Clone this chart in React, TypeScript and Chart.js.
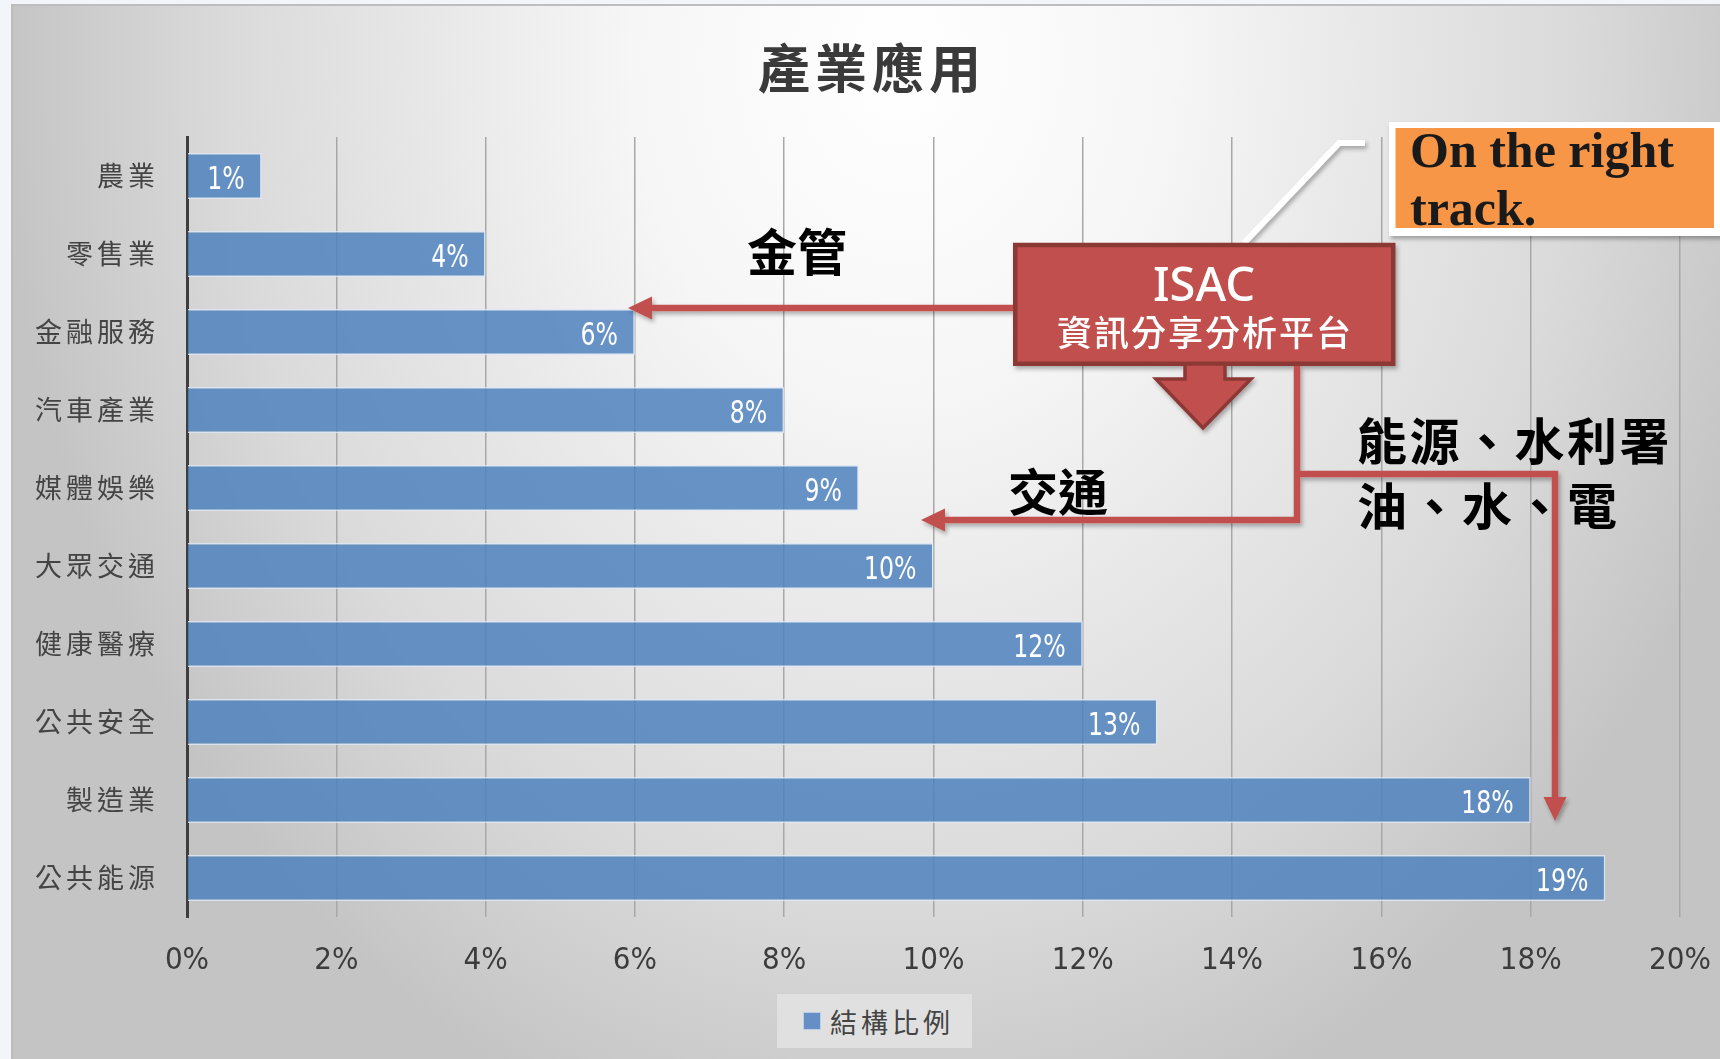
import React, { useEffect, useRef } from 'react';
import { Chart, registerables } from 'chart.js';

Chart.register(...registerables);

// ---- data ----
const chartTitle = '產業應用';
const seriesName = '結構比例';
const categories = ['農業', '零售業', '金融服務', '汽車產業', '媒體娛樂', '大眾交通', '健康醫療', '公共安全', '製造業', '公共能源'];
const shares = [1, 4, 6, 8, 9, 10, 12, 13, 18, 19];
const axisMin = 0;
const axisMax = 20;
const axisStep = 2;

const NARROW = "'Liberation Sans Narrow', 'DejaVu Sans Condensed', 'Roboto', sans-serif";
const CJK = "'Noto Sans CJK TC', 'Noto Sans CJK SC', sans-serif";

const W = 1720;
const H = 1059;

const bgPlugin = {
  id: 'slideBackground',
  beforeDraw(chart: any) {
    const { ctx, width, height } = chart;
    ctx.save();
    ctx.fillStyle = '#f2f5fa';
    ctx.fillRect(0, 0, width, height);
    ctx.save();
    ctx.beginPath();
    ctx.rect(12, 5, width - 12, height - 5);
    ctx.clip();
    ctx.translate(900, 60);
    ctx.scale(1, 1.25);
    const g = ctx.createRadialGradient(0, 0, 0, 0, 0, 900);
    g.addColorStop(0, '#ffffff');
    g.addColorStop(0.3, '#f6f6f6');
    g.addColorStop(0.55, '#e6e6e6');
    g.addColorStop(0.75, '#dadada');
    g.addColorStop(1, '#c4c4c4');
    ctx.fillStyle = g;
    ctx.fillRect(-1000, -100, 2000, 1000);
    ctx.restore();
    ctx.strokeStyle = '#bdbdbd';
    ctx.lineWidth = 2;
    ctx.strokeRect(12, 5, width, height);
    ctx.restore();
  },
};

const barLabelPlugin = {
  id: 'barLabels',
  afterDatasetsDraw(chart: any) {
    const ctx = chart.ctx;
    const meta = chart.getDatasetMeta(0);
    const data = chart.data.datasets[0].data;
    meta.data.forEach((el: any, i: number) => {
      ctx.save();
      ctx.font = `500 32px ${NARROW}`;
      ctx.fillStyle = '#ffffff';
      ctx.textAlign = 'right';
      ctx.textBaseline = 'middle';
      ctx.translate(el.x - 17, el.y + 5);
      ctx.scale(0.82, 1);
      ctx.fillText(`${data[i]}%`, 0, 0);
      ctx.restore();
    });
  },
};

function ChartCanvas() {
  const ref = useRef<HTMLCanvasElement | null>(null);
  useEffect(() => {
    if (!ref.current) return;
    const chart = new Chart(ref.current, {
      type: 'bar',
      data: {
        labels: categories,
        datasets: [
          {
            label: seriesName,
            data: shares,
            backgroundColor: 'rgba(79,129,189,0.85)',
            borderColor: 'rgba(222,232,246,0.85)',
            borderWidth: 1.5,
            categoryPercentage: 1,
            barPercentage: 0.59,
          },
        ],
      },
      options: {
        indexAxis: 'y',
        responsive: false,
        animation: false,
        layout: { padding: { left: 0, right: 40, top: 137, bottom: 0 } },
        plugins: {
          legend: { display: false },
          title: { display: false },
          tooltip: { enabled: false },
        },
        scales: {
          x: {
            min: axisMin,
            max: axisMax,
            ticks: {
              stepSize: axisStep,
              callback: (v: any) => `${v}%`,
              font: { family: NARROW, size: 31, weight: '500' },
              color: '#3c3c3c',
              padding: 25,
            },
            grid: { color: '#a8a8a8', lineWidth: 1.5, drawTicks: false },
            border: { display: false },
            afterFit: (s: any) => {
              s.height = H - 917;
              s.paddingRight = 0;
              s.paddingLeft = 0;
            },
          },
          y: {
            ticks: {
              font: { family: CJK, size: 27 },
              color: '#444444',
              padding: 28,
            },
            grid: { display: false, drawTicks: false },
            border: { display: true, color: '#3e3e3e', width: 3 },
            afterFit: (s: any) => {
              s.width = 187;
              if (!s.__spaced) {
                s.__spaced = true;
                const orig = s.drawLabels.bind(s);
                s.drawLabels = (area: any) => {
                  const c = s.ctx;
                  const prev = c.letterSpacing;
                  c.letterSpacing = '4px';
                  orig(area);
                  c.letterSpacing = prev;
                };
              }
            },
          },
        },
      } as any,
      plugins: [bgPlugin, barLabelPlugin],
    });
    return () => chart.destroy();
  }, []);
  return <canvas ref={ref} width={W} height={H} style={{ display: 'block', width: W, height: H }} />;
}

const abs = (o: React.CSSProperties): React.CSSProperties => ({ position: 'absolute', whiteSpace: 'nowrap', ...o });

export default function App() {
  const red = '#c0504d';
  const dark = '#8c3836';
  return (
    <div style={{ position: 'absolute', left: 0, top: 0, width: W, height: H, overflow: 'hidden' }}>
      <ChartCanvas />
      {/* title */}
      <div
        style={abs({
          left: 872,
          top: 66,
          transform: 'translate(-50%, -50%)',
          font: `700 52px ${CJK}`,
          lineHeight: 1,
          letterSpacing: '5px',
          color: '#3a3a3a',
        })}
      >
        {chartTitle}
      </div>
      {/* legend */}
      <div style={abs({ left: 777, top: 994, width: 195, height: 54, background: '#e0e0e0' })}>
        <div
          style={abs({
            left: 26,
            top: 18,
            width: 16,
            height: 16,
            background: '#658fc5',
            border: '1px solid #b9cde7',
          })}
        />
        <div
          style={abs({
            left: 53,
            top: 27,
            transform: 'translateY(-50%)',
            font: `400 27px ${CJK}`,
            lineHeight: 1,
            letterSpacing: '4px',
            color: '#444444',
          })}
        >
          {seriesName}
        </div>
      </div>
      {/* annotation shapes */}
      <svg width={W} height={H} style={{ position: 'absolute', left: 0, top: 0, pointerEvents: 'none' }}>
        <defs>
          <filter id="sh" x="-10%" y="-10%" width="120%" height="130%">
            <feDropShadow dx="2" dy="3" stdDeviation="2" floodColor="#000" floodOpacity="0.3" />
          </filter>
        </defs>
        <g filter="url(#sh)">
          <polyline points="1244,243 1339,143 1365,143" fill="none" stroke="#ffffff" strokeWidth={6} />
          <rect x={1389} y={122} width={340} height={114} fill="#ffffff" />
        </g>
        <rect x={1395.5} y={128} width={318.5} height={100} fill="#f79646" />
        <g filter="url(#sh)">
          <polyline points="1013,308 648,308" fill="none" stroke={red} strokeWidth={6.5} />
          <polygon points="628,308 652,296.5 652,319.5" fill={red} />
          <polyline points="1297,366 1297,520 940,520" fill="none" stroke={red} strokeWidth={6.5} />
          <polygon points="921,520 945,508.5 945,531.5" fill={red} />
          <polyline points="1297,474 1555,474 1555,800" fill="none" stroke={red} strokeWidth={6.5} />
          <polygon points="1555,821 1543.5,797 1566.5,797" fill={red} />
          <rect x={1015.25} y={245} width={378} height={118.75} fill={red} stroke={dark} strokeWidth={4.5} />
          <polygon
            points="1185,364 1225,364 1225,379 1251,379 1203,428 1156,379 1185,379"
            fill={red}
            stroke={dark}
            strokeWidth={3.5}
            strokeLinejoin="miter"
          />
        </g>
      </svg>
      {/* annotation texts */}
      <div
        style={abs({
          left: 1204,
          top: 283,
          transform: 'translate(-50%, -50%)',
          font: `500 47px 'Noto Sans', sans-serif`,
          lineHeight: 1,
          color: '#ffffff',
        })}
      >
        ISAC
      </div>
      <div
        style={abs({
          left: 1205,
          top: 330,
          transform: 'translate(-50%, -50%)',
          font: `500 35px ${CJK}`,
          lineHeight: 1,
          letterSpacing: '2px',
          color: '#ffffff',
        })}
      >
        資訊分享分析平台
      </div>
      <div
        style={abs({
          left: 797,
          top: 249,
          transform: 'translate(-50%, -50%)',
          font: `700 50px ${CJK}`,
          lineHeight: 1,
          color: '#000000',
        })}
      >
        金管
      </div>
      <div
        style={abs({
          left: 1058,
          top: 489,
          transform: 'translate(-50%, -50%)',
          font: `700 50px ${CJK}`,
          lineHeight: 1,
          color: '#000000',
        })}
      >
        交通
      </div>
      <div
        style={abs({
          left: 1357,
          top: 406,
          font: `700 50px ${CJK}`,
          lineHeight: '64.5px',
          letterSpacing: '2.5px',
          color: '#000000',
        })}
      >
        <div>能源、水利署</div>
        <div>油、水、電</div>
      </div>
      <div
        style={abs({
          left: 1410,
          top: 121,
          font: `700 50px 'Liberation Serif', 'DejaVu Serif', serif`,
          lineHeight: '58px',
          color: '#1a1a1a',
        })}
      >
        <div>On the right</div>
        <div>track.</div>
      </div>
    </div>
  );
}
